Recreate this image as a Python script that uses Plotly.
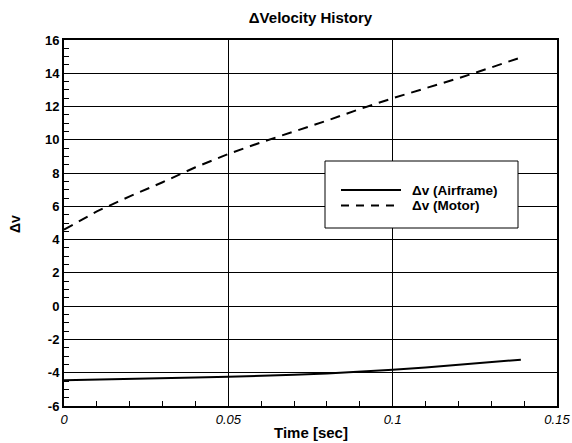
import plotly.graph_objects as go

time_s = [0, 0.01, 0.02, 0.03, 0.04, 0.05, 0.06, 0.07, 0.08, 0.09, 0.10, 0.11, 0.12, 0.13, 0.139]
dv_motor = [4.6, 5.7, 6.6, 7.45, 8.35, 9.15, 9.85, 10.5, 11.15, 11.85, 12.5, 13.1, 13.7, 14.35, 14.95]
dv_airframe = [-4.45, -4.42, -4.38, -4.34, -4.29, -4.24, -4.19, -4.12, -4.04, -3.94, -3.82, -3.68, -3.53, -3.37, -3.22]
series_names = ["Δv (Airframe)", "Δv (Motor)"]
x_ticks = [0, 0.05, 0.1, 0.15]
x_tick_labels = ["0", "0.05", "0.1", "0.15"]
y_ticks = list(range(-6, 17, 2))
y_tick_labels = [str(v) for v in y_ticks]

FONT = "Liberation Sans, Arial, sans-serif"

fig = go.Figure()
fig.add_trace(go.Scatter(x=time_s, y=dv_airframe, mode="lines", name=series_names[0],
                         line=dict(color="black", width=2), showlegend=False))
fig.add_trace(go.Scatter(x=time_s, y=dv_motor, mode="lines", name=series_names[1],
                         line=dict(color="black", width=2, dash="10px,7px"), showlegend=False))

L, R, T, B = 64, 15, 40, 37
W, H = 572, 443
pw, ph = W - L - R, H - T - B

def px2paper(x, y):
    return (x - L) / pw, (H - B - y) / ph

# custom legend box
x0, y0 = px2paper(325, 161)
x1, y1 = px2paper(518, 228)
shapes = [dict(type="rect", xref="paper", yref="paper", x0=x0, y0=y1, x1=x1, y1=y0,
               line=dict(color="black", width=1), fillcolor="white", layer="above")]
annotations = []
for i, (name, dash) in enumerate(zip(series_names, ["solid", "8px,7px"])):
    yy = 190 + i * 15.5
    a0, b0 = px2paper(341, yy)
    a1, _ = px2paper(401, yy)
    shapes.append(dict(type="line", xref="paper", yref="paper", x0=a0, y0=b0, x1=a1, y1=b0,
                       line=dict(color="black", width=2, dash=dash), layer="above"))
    tx, _ = px2paper(410, yy)
    annotations.append(dict(xref="paper", yref="paper", x=tx, y=b0, text="<b>" + name + "</b>",
                            showarrow=False, xanchor="left", yanchor="middle",
                            font=dict(family=FONT, size=13.5, color="black")))

# axis titles as annotations for exact placement
annotations.append(dict(xref="paper", yref="paper", x=0.5, y=-(432 - (H - B)) / ph,
                        text="<b>Time [sec]</b>", showarrow=False, xanchor="center", yanchor="middle",
                        font=dict(family=FONT, size=15, color="black")))
annotations.append(dict(xref="paper", yref="paper", x=-(L - 15) / pw, y=(H - B - 224) / ph,
                        text="<b>Δv</b>", showarrow=False, xanchor="center", yanchor="middle",
                        textangle=-90, font=dict(family=FONT, size=14, color="black")))

fig.update_layout(
    width=W, height=H,
    margin=dict(l=L, r=R, t=T, b=B, autoexpand=False),
    paper_bgcolor="white", plot_bgcolor="white",
    title=dict(text="<b>ΔVelocity History</b>", x=(L + pw / 2) / W, xanchor="center",
               y=1 - 18 / H, yanchor="middle", yref="container",
               font=dict(family=FONT, size=15, color="black")),
    shapes=shapes, annotations=annotations,
    showlegend=False,
)
fig.update_xaxes(
    range=[0, 0.15], tickvals=x_ticks, ticktext=["<i>" + t + "</i>" for t in x_tick_labels],
    showgrid=True, gridcolor="black", gridwidth=1,
    showline=True, linecolor="black", linewidth=2, mirror=True,
    ticks="inside", ticklen=6, tickcolor="black",
    minor=dict(dtick=0.01, ticks="inside", ticklen=5, tickcolor="black", showgrid=False),
    zeroline=False, automargin=False,
    tickfont=dict(family=FONT, size=13, color="black"),
)
fig.update_yaxes(
    range=[-6, 16], tickvals=y_ticks, ticktext=["<b>" + t + "</b>" for t in y_tick_labels],
    showgrid=True, gridcolor="black", gridwidth=1,
    showline=True, linecolor="black", linewidth=2, mirror=True,
    ticks="inside", ticklen=6, tickcolor="black",
    minor=dict(dtick=0.5, ticks="inside", ticklen=5, tickcolor="black", showgrid=False),
    zeroline=False, automargin=False,
    tickfont=dict(family=FONT, size=13, color="black"),
)

fig.write_html("out.html")
